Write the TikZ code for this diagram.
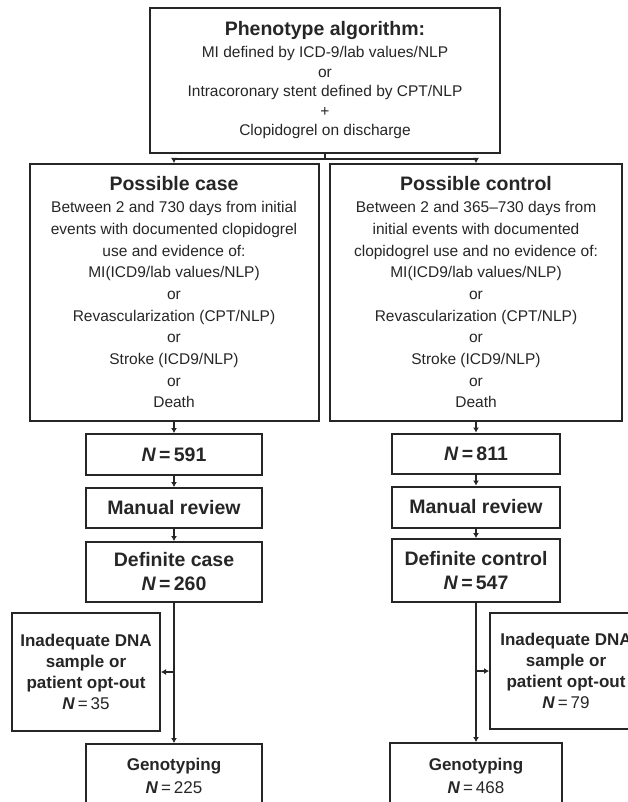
\documentclass[tikz,border=0pt]{standalone}
\usepackage{fontspec}
\setmainfont{Liberation Sans}
\usetikzlibrary{arrows.meta,positioning}
\tikzset{font=\fontsize{15.5}{21.7}\selectfont}
\tikzset{box/.style={draw=black!85, line width=2pt, align=center, inner sep=0pt, text=black!85}}
\tikzset{arr/.style={draw=black!85, line width=1.8pt, -{Latex[length=5pt,width=6pt]}}}
\tikzset{bigbold/.style={font=\fontsize{19.5}{24}\selectfont\bfseries}}
\tikzset{smallbold/.style={font=\fontsize{17}{21}\selectfont\bfseries}}
\newcommand{\ttl}[1]{{\fontsize{19.5}{22}\selectfont\bfseries #1}}
\newcommand{\nval}[1]{\textit{N}\,=\,#1}
\newcommand{\nsmall}[1]{\textit{N}{\mdseries\,=\,#1}}

\begin{document}
\begin{tikzpicture}[x=1pt,y=-1pt]
  \useasboundingbox (0,0) rectangle (628,802);
  \clip (0,0) rectangle (628,802);

  \node[box, minimum width=350, minimum height=145, font=\fontsize{15.5}{19.5}\selectfont] (pheno) at (325,80.5)
    {\ttl{Phenotype algorithm:}\\[2.5pt]MI defined by ICD-9/lab values/NLP\\or\\Intracoronary stent defined by CPT/NLP\\+\\Clopidogrel on discharge};

  % case column
  \node[box, minimum width=289, minimum height=257] (posscase) at (174,292.5)
    {\ttl{Possible case}\\Between 2 and 730 days from initial\\events with documented clopidogrel\\use and evidence of:\\MI(ICD9/lab values/NLP)\\or\\Revascularization (CPT/NLP)\\or\\Stroke (ICD9/NLP)\\or\\Death};
  \node[box, bigbold, minimum width=176, minimum height=41] (n591) at (174,454.5) {\nval{591}};
  \node[box, bigbold, minimum width=176, minimum height=40] (revcase) at (174,508) {Manual review};
  \node[box, bigbold, minimum width=176, minimum height=60] (defcase) at (174,572) {Definite case\\\nval{260}};
  \node[box, smallbold, minimum width=148, minimum height=118] (inadcase) at (86,672)
    {Inadequate DNA\\sample or\\patient opt-out\\\nsmall{35}};
  \node[box, minimum width=176, minimum height=64, font=\fontsize{17}{23}\selectfont\bfseries] (genocase) at (174,776)
    {Genotyping\\\nsmall{225}};

  % control column
  \node[box, minimum width=292, minimum height=257] (possctrl) at (476,292.5)
    {\ttl{Possible control}\\Between 2 and 365--730 days from\\initial events with documented\\clopidogrel use and no evidence of:\\MI(ICD9/lab values/NLP)\\or\\Revascularization (CPT/NLP)\\or\\Stroke (ICD9/NLP)\\or\\Death};
  \node[box, bigbold, minimum width=168, minimum height=40] (n811) at (476,453.5) {\nval{811}};
  \node[box, bigbold, minimum width=168, minimum height=41] (revctrl) at (476,507) {Manual review};
  \node[box, bigbold, minimum width=168, minimum height=63] (defctrl) at (476,570.5) {Definite control\\\nval{547}};
  \node[box, smallbold, minimum width=152, minimum height=116] (inadctrl) at (566,671)
    {Inadequate DNA\\sample or\\patient opt-out\\\nsmall{79}};
  \node[box, minimum width=172, minimum height=65, font=\fontsize{17}{23}\selectfont\bfseries] (genoctrl) at (476,775.5)
    {Genotyping\\\nsmall{468}};

  % connectors
  \draw[draw=black!85, line width=1.8pt] (pheno.south) -- ++(0,5) coordinate (split);
  \draw[arr] (split) -| (posscase.north);
  \draw[arr] (split) -| (possctrl.north);

  \draw[arr] (posscase) -- (n591);
  \draw[arr] (n591) -- (revcase);
  \draw[arr] (revcase) -- (defcase);
  \draw[arr] (defcase) -- (genocase);
  \draw[arr] (defcase.south |- inadcase.east) -- (inadcase.east);

  \draw[arr] (possctrl) -- (n811);
  \draw[arr] (n811) -- (revctrl);
  \draw[arr] (revctrl) -- (defctrl);
  \draw[arr] (defctrl) -- (genoctrl);
  \draw[arr] (defctrl.south |- inadctrl.west) -- (inadctrl.west);
\end{tikzpicture}
\end{document}
